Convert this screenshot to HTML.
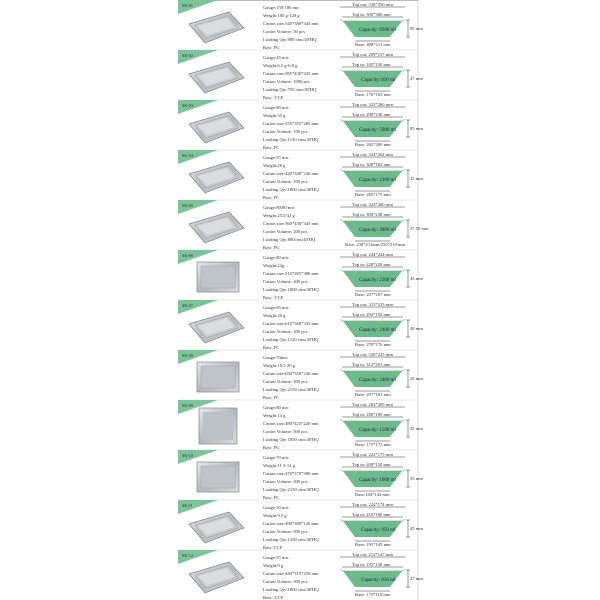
<!DOCTYPE html><html><head><style>body{margin:0;background:#fff;width:600px;height:600px;overflow:hidden}
svg{position:absolute;left:0;top:0}text{font-family:"Liberation Serif",serif;fill:#333}
.s{font-size:4.6px}.t{font-size:4.2px}.c{font-size:5px;fill:#123}</style></head><body>
<svg width="600" height="600" viewBox="0 0 600 600">
<defs>
<linearGradient id="al" x1="0" y1="0" x2="1" y2="1"><stop offset="0" stop-color="#e8eaec"/><stop offset="0.5" stop-color="#b4b9be"/><stop offset="1" stop-color="#d9dcdf"/></linearGradient>
<g id="pan"><path d="M189 24 L229 12 L244 28 L205 43 Z" fill="url(#al)" stroke="#7d838a" stroke-width="0.7"/><path d="M195 25 L228 16 L238 28 L206 38 Z" fill="#c8ccd0" stroke="#959ba1" stroke-width="0.5"/><path d="M198 26 L227 18 L234 27 L207 35 Z" fill="#dadde0"/></g>
<g id="dia">
<line x1="340" y1="7" x2="405" y2="7" stroke="#333" stroke-width="0.5"/>
<line x1="342" y1="17" x2="403" y2="17" stroke="#333" stroke-width="0.5"/>
<path d="M340 19 L342 21 L403 21 L405 19" fill="none" stroke="#555" stroke-width="0.4"/>
<path d="M343 21 L402 21 L390 37 L355 37 Z" fill="#6dbb8c"/>
<line x1="355" y1="41" x2="390" y2="41" stroke="#333" stroke-width="0.5"/>
<line x1="408" y1="20" x2="408" y2="37" stroke="#333" stroke-width="0.5"/>
<line x1="406" y1="20" x2="410" y2="20" stroke="#333" stroke-width="0.5"/>
<line x1="406" y1="37" x2="410" y2="37" stroke="#333" stroke-width="0.5"/>
</g>
<path id="tag" d="M178 0 L218 0 L178 14 Z" fill="#7cc49a"/>
<g id="sq"><rect x="197" y="12" width="42" height="30" fill="url(#al)" stroke="#80868c" stroke-width="0.7"/><rect x="201" y="16" width="34" height="22" fill="#bfc4c9" stroke="#999" stroke-width="0.4"/></g>
</defs>
<line x1="418" y1="0" x2="418" y2="600" stroke="#ccc" stroke-width="0.8"/>
<line x1="178" y1="0.5" x2="418" y2="0.5" stroke="#bbb" stroke-width="1"/>
<g transform="translate(0,0)"><use href="#tag"/><text x="182" y="7" class="t">SK-01</text><use href="#pan"/><use href="#dia"/>
<text class="s" x="263" y="9">Gauge:150/180 mic</text><text class="s" x="263" y="17">Weight:100 g-120 g</text><text class="s" x="263" y="25">Carton size:540*380*345 mm</text><text class="s" x="263" y="33">Carton Volume: 50 pcs</text><text class="s" x="263" y="41">Loading Qty:980 ctns/40'HQ</text><text class="s" x="263" y="49">Raw: PC</text>
<text class="s" x="352" y="6">Top out: 538*350 mm</text><text class="s" x="352" y="16">Top in: 500*300 mm</text><text class="c" x="359" y="31">Capacity: 9300 ml</text><text class="s" x="410" y="30">85 mm</text><text class="s" x="355" y="46">Base: 408*211 mm</text></g>
<line x1="178" y1="50" x2="418" y2="50" stroke="#dde" stroke-width="0.8"/>
<g transform="translate(0,50)"><use href="#tag"/><text x="182" y="7" class="t">SK-02</text><use href="#pan"/><use href="#dia"/>
<text class="s" x="263" y="9">Gauge:45 mic</text><text class="s" x="263" y="17">Weight:6.5 g-6.8 g</text><text class="s" x="263" y="25">Carton size:585*430*325 mm</text><text class="s" x="263" y="33">Carton Volume: 1000 pcs</text><text class="s" x="263" y="41">Loading Qty:750 ctns/40'HQ</text><text class="s" x="263" y="49">Raw: T/CF</text>
<text class="s" x="352" y="6">Top out: 209*157 mm</text><text class="s" x="352" y="16">Top in: 185*130 mm</text><text class="c" x="361" y="31">Capacity: 830 ml</text><text class="s" x="410" y="30">47 mm</text><text class="s" x="355" y="46">Base: 176*103 mm</text></g>
<line x1="178" y1="100" x2="418" y2="100" stroke="#dde" stroke-width="0.8"/>
<g transform="translate(0,100)"><use href="#tag"/><text x="182" y="7" class="t">SK-03</text><use href="#pan"/><use href="#dia"/>
<text class="s" x="263" y="9">Gauge:80 mic</text><text class="s" x="263" y="17">Weight:35 g</text><text class="s" x="263" y="25">Carton size:555*355*285 mm</text><text class="s" x="263" y="33">Carton Volume: 100 pcs</text><text class="s" x="263" y="41">Loading Qty:1130 ctns/40'HQ</text><text class="s" x="263" y="49">Raw: PC</text>
<text class="s" x="352" y="6">Top out: 325*260 mm</text><text class="s" x="352" y="16">Top in: 298*238 mm</text><text class="c" x="359" y="31">Capacity: 5000 ml</text><text class="s" x="410" y="30">85 mm</text><text class="s" x="355" y="46">Base: 262*200 mm</text></g>
<line x1="178" y1="150" x2="418" y2="150" stroke="#dde" stroke-width="0.8"/>
<g transform="translate(0,150)"><use href="#tag"/><text x="182" y="7" class="t">SK-04</text><use href="#pan"/><use href="#dia"/>
<text class="s" x="263" y="9">Gauge:55 mic</text><text class="s" x="263" y="17">Weight:28 g</text><text class="s" x="263" y="25">Carton size:420*340*230 mm</text><text class="s" x="263" y="33">Carton Volume: 100 pcs</text><text class="s" x="263" y="41">Loading Qty:1800 ctns/40'HQ</text><text class="s" x="263" y="49">Raw: PC</text>
<text class="s" x="352" y="6">Top out: 324*264 mm</text><text class="s" x="352" y="16">Top in: 300*182 mm</text><text class="c" x="359" y="31">Capacity: 2100 ml</text><text class="s" x="410" y="30">32 mm</text><text class="s" x="355" y="46">Base: 260*175 mm</text></g>
<line x1="178" y1="200" x2="418" y2="200" stroke="#dde" stroke-width="0.8"/>
<g transform="translate(0,200)"><use href="#tag"/><text x="182" y="7" class="t">SK-05</text><use href="#pan"/><use href="#dia"/>
<text class="s" x="263" y="9">Gauge:80/80 mic</text><text class="s" x="263" y="17">Weight:25.5/32 g</text><text class="s" x="263" y="25">Carton size:560*430*345 mm</text><text class="s" x="263" y="33">Carton Volume: 200 pcs</text><text class="s" x="263" y="41">Loading Qty:880ctns/40'HQ</text><text class="s" x="263" y="49">Raw: PC</text>
<text class="s" x="352" y="6">Top out: 323*260 mm</text><text class="s" x="352" y="16">Top in: 300*238 mm</text><text class="c" x="359" y="31">Capacity: 2800 ml</text><text class="s" x="410" y="30">47.50 mm</text><text class="s" x="345" y="46">Base: 238*211mm/250*218 mm</text></g>
<line x1="178" y1="250" x2="418" y2="250" stroke="#dde" stroke-width="0.8"/>
<g transform="translate(0,250)"><use href="#tag"/><text x="182" y="7" class="t">SK-06</text><use href="#sq"/><use href="#dia"/>
<text class="s" x="263" y="9">Gauge:80 mic</text><text class="s" x="263" y="17">Weight:22g</text><text class="s" x="263" y="25">Carton size:510*285*380 mm</text><text class="s" x="263" y="33">Carton Volume: 200 pcs</text><text class="s" x="263" y="41">Loading Qty:1800 ctns/40'HQ</text><text class="s" x="263" y="49">Raw: T/CF</text>
<text class="s" x="352" y="6">Top out: 244*244 mm</text><text class="s" x="352" y="16">Top in: 228*228 mm</text><text class="c" x="359" y="31">Capacity: 2300 ml</text><text class="s" x="410" y="30">45 mm</text><text class="s" x="355" y="46">Base: 207*207 mm</text></g>
<line x1="178" y1="300" x2="418" y2="300" stroke="#dde" stroke-width="0.8"/>
<g transform="translate(0,300)"><use href="#tag"/><text x="182" y="7" class="t">SK-07</text><use href="#pan"/><use href="#dia"/>
<text class="s" x="263" y="9">Gauge:65 mic</text><text class="s" x="263" y="17">Weight:20 g</text><text class="s" x="263" y="25">Carton size:610*380*335 mm</text><text class="s" x="263" y="33">Carton Volume: 200 pcs</text><text class="s" x="263" y="41">Loading Qty:1120 ctns/40'HQ</text><text class="s" x="263" y="49">Raw: PC</text>
<text class="s" x="352" y="6">Top out: 315*215 mm</text><text class="s" x="352" y="16">Top in: 294*194 mm</text><text class="c" x="359" y="31">Capacity: 2400 ml</text><text class="s" x="410" y="30">48 mm</text><text class="s" x="355" y="46">Base: 270*176 mm</text></g>
<line x1="178" y1="350" x2="418" y2="350" stroke="#dde" stroke-width="0.8"/>
<g transform="translate(0,350)"><use href="#tag"/><text x="182" y="7" class="t">SK-08</text><use href="#sq"/><use href="#dia"/>
<text class="s" x="263" y="9">Gauge:70mic</text><text class="s" x="263" y="17">Weight:19.5-20 g</text><text class="s" x="263" y="25">Carton size:650*350*230 mm</text><text class="s" x="263" y="33">Carton Volume: 200 pcs</text><text class="s" x="263" y="41">Loading Qty:2150 ctns/40'HQ</text><text class="s" x="263" y="49">Raw: PC</text>
<text class="s" x="352" y="6">Top out: 330*225 mm</text><text class="s" x="352" y="16">Top in: 312*201 mm</text><text class="c" x="359" y="31">Capacity: 2400 ml</text><text class="s" x="410" y="30">45 mm</text><text class="s" x="355" y="46">Base: 297*181 mm</text></g>
<line x1="178" y1="400" x2="418" y2="400" stroke="#dde" stroke-width="0.8"/>
<g transform="translate(0,400)"><use href="#tag"/><text x="182" y="7" class="t">SK-09</text><rect x="199" y="8" width="38" height="36" fill="url(#al)" stroke="#80868c" stroke-width="0.7"/><rect x="203" y="12" width="30" height="28" fill="#bcc1c6"/><use href="#dia"/>
<text class="s" x="263" y="9">Gauge:80 mic</text><text class="s" x="263" y="17">Weight:14 g</text><text class="s" x="263" y="25">Carton size:480*425*220 mm</text><text class="s" x="263" y="33">Carton Volume: 500 pcs</text><text class="s" x="263" y="41">Loading Qty:1850 ctns/40'HQ</text><text class="s" x="263" y="49">Raw: PC</text>
<text class="s" x="352" y="6">Top out: 204*209 mm</text><text class="s" x="352" y="16">Top in: 180*180 mm</text><text class="c" x="359" y="31">Capacity: 1500 ml</text><text class="s" x="410" y="30">45 mm</text><text class="s" x="355" y="46">Base: 175*173 mm</text></g>
<line x1="178" y1="450" x2="418" y2="450" stroke="#dde" stroke-width="0.8"/>
<g transform="translate(0,450)"><use href="#tag"/><text x="182" y="7" class="t">SK-10</text><use href="#sq"/><use href="#dia"/>
<text class="s" x="263" y="9">Gauge:70 mic</text><text class="s" x="263" y="17">Weight:11.5-12 g</text><text class="s" x="263" y="25">Carton size:470*370*300 mm</text><text class="s" x="263" y="33">Carton Volume: 500 pcs</text><text class="s" x="263" y="41">Loading Qty:2150 ctns/40'HQ</text><text class="s" x="263" y="49">Raw: PC</text>
<text class="s" x="352" y="6">Top out: 222*175 mm</text><text class="s" x="352" y="16">Top in: 208*150 mm</text><text class="c" x="359" y="31">Capacity: 1000 ml</text><text class="s" x="410" y="30">35 mm</text><text class="s" x="355" y="46">Base:184*143 mm</text></g>
<line x1="178" y1="500" x2="418" y2="500" stroke="#dde" stroke-width="0.8"/>
<g transform="translate(0,500)"><use href="#tag"/><text x="182" y="7" class="t">SK-11</text><use href="#pan"/><use href="#dia"/>
<text class="s" x="263" y="9">Gauge:50 mic</text><text class="s" x="263" y="17">Weight:9.5 g</text><text class="s" x="263" y="25">Carton size:490*380*130 mm</text><text class="s" x="263" y="33">Carton Volume: 500 pcs</text><text class="s" x="263" y="41">Loading Qty:1250 ctns/40'HQ</text><text class="s" x="263" y="49">Raw:T/CF</text>
<text class="s" x="352" y="6">Top out: 224*174 mm</text><text class="s" x="352" y="16">Top in: 210*160 mm</text><text class="c" x="361" y="31">Capacity: 950 ml</text><text class="s" x="410" y="30">45 mm</text><text class="s" x="355" y="46">Base: 195*145 mm</text></g>
<line x1="178" y1="550" x2="418" y2="550" stroke="#dde" stroke-width="0.8"/>
<g transform="translate(0,550)"><use href="#tag"/><text x="182" y="7" class="t">SK-12</text><use href="#pan"/><use href="#dia"/>
<text class="s" x="263" y="9">Gauge:55 mic</text><text class="s" x="263" y="17">Weight:9 g</text><text class="s" x="263" y="25">Carton size:440*315*250 mm</text><text class="s" x="263" y="33">Carton Volume: 500 pcs</text><text class="s" x="263" y="41">Loading Qty:1800 ctns/40'HQ</text><text class="s" x="263" y="49">Raw: T/CF</text>
<text class="s" x="352" y="6">Top out: 212*147 mm</text><text class="s" x="352" y="16">Top in: 195*130 mm</text><text class="c" x="361" y="31">Capacity: 830 ml</text><text class="s" x="410" y="30">47 mm</text><text class="s" x="355" y="46">Base: 175*110 mm</text></g>
</svg></body></html>
